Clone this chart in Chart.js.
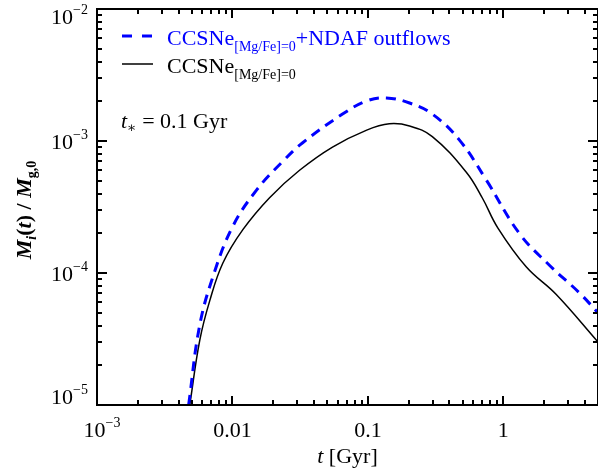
<!DOCTYPE html>
<html>
<head>
<meta charset="utf-8">
<script src="https://cdn.jsdelivr.net/npm/chart.js@4.4.1/dist/chart.umd.min.js"></script>
<style>
    html, body { margin: 0; padding: 0; background: #fff; }
    #wrap { width: 598px; height: 471px; }
</style>
</head>
<body>
<div id="wrap"><canvas id="chart" width="598" height="471"></canvas></div>
<script>
// values: t [Gyr] and M_i(t) / M_g,0
const tSolid = [0.00484, 0.00574, 0.00681, 0.0085, 0.0119, 0.0188, 0.0313, 0.0548, 0.098, 0.144, 0.203, 0.299, 0.533, 0.7, 0.91, 1.48, 2.45, 5];
const mSolid = [1.0e-5, 3.1e-5, 6.2e-5, 1.19e-4, 2.12e-4, 3.72e-4, 6.0e-4, 9.0e-4, 1.21e-3, 1.35e-3, 1.3e-3, 1.08e-3, 5.8e-4, 3.7e-4, 2.2e-4, 1.11e-4, 6.9e-5, 3.0e-5];

const tDashed = [0.00475, 0.0057, 0.00716, 0.01, 0.0151, 0.0235, 0.033, 0.065, 0.098, 0.137, 0.203, 0.299, 0.473, 0.748, 1.31, 2.18, 3.63, 5];
const mDashed = [1.0e-5, 3.9e-5, 9.3e-5, 2.23e-4, 4.26e-4, 7.0e-4, 9.7e-4, 1.6e-3, 2.01e-3, 2.12e-3, 1.94e-3, 1.6e-3, 1.02e-3, 5.07e-4, 2.0e-4, 1.15e-4, 7.1e-5, 5.0e-5];

// tick labels
const xTicks = [0.001, 0.01, 0.1, 1];
const xTickLabels = [['10', '\u22123'], ['0.01'], ['0.1'], ['1']];
const yTicks = [1e-5, 1e-4, 1e-3, 1e-2];
const yTickLabels = [['10', '\u22125'], ['10', '\u22124'], ['10', '\u22123'], ['10', '\u22122']];

const SERIF = '"Liberation Serif", "DejaVu Serif", serif';
const BLUE = '#0000ff';

function font(size, style) {
    return (style || '') + ' ' + size + 'px ' + SERIF;
}

// draw text made of parts {t, f, dy, c}; align 'left' | 'center' | 'right'
function richText(ctx, parts, x, y, align) {
    let w = 0;
    parts.forEach(p => { ctx.font = p.f; w += ctx.measureText(p.t).width; });
    let cx = align === 'center' ? x - w / 2 : align === 'right' ? x - w : x;
    ctx.textAlign = 'left';
    ctx.textBaseline = 'alphabetic';
    parts.forEach(p => {
        ctx.font = p.f;
        if (p.c) ctx.fillStyle = p.c;
        ctx.fillText(p.t, cx, y + (p.dy || 0));
        cx += ctx.measureText(p.t).width;
    });
}

function labelParts(lbl) {
    const parts = [{t: lbl[0], f: font(22)}];
    if (lbl[1]) parts.push({t: lbl[1], f: font(14), dy: -10});
    return parts;
}

const frame = {
    id: 'frame',
    afterDatasetsDraw(chart) {
        const {ctx, chartArea: a, scales: {x, y}} = chart;
        ctx.save();
        ctx.strokeStyle = '#000';
        ctx.fillStyle = '#000';
        ctx.lineWidth = 2;
        ctx.strokeRect(a.left, a.top, a.right - a.left, a.bottom - a.top);

        // inward ticks, majors at each decade, minors at 2..9
        ctx.beginPath();
        for (let d = 1e-3; d < 10; d *= 10) {
            for (let k = 1; k <= 9; k++) {
                const v = k * d;
                if (v < x.min * 0.999 || v > x.max * 1.001) continue;
                const px = Math.round(x.getPixelForValue(v));
                const len = k === 1 ? 9 : 5;
                ctx.moveTo(px, a.bottom); ctx.lineTo(px, a.bottom - len);
                ctx.moveTo(px, a.top); ctx.lineTo(px, a.top + len);
            }
        }
        for (let d = 1e-5; d < 0.1; d *= 10) {
            for (let k = 1; k <= 9; k++) {
                const v = k * d;
                if (v < y.min * 0.999 || v > y.max * 1.001) continue;
                const py = Math.round(y.getPixelForValue(v));
                const len = k === 1 ? 10 : 5;
                ctx.moveTo(a.left, py); ctx.lineTo(a.left + len, py);
                ctx.moveTo(a.right, py); ctx.lineTo(a.right - len, py);
            }
        }
        ctx.stroke();

        // tick labels
        xTicks.forEach((v, i) => {
            richText(ctx, labelParts(xTickLabels[i]), x.getPixelForValue(v) + (xTickLabels[i][1] ? 5 : 0), a.bottom + 32, 'center');
        });
        yTicks.forEach((v, i) => {
            const py = Math.min(Math.max(y.getPixelForValue(v), a.top + 7), a.bottom - 9);
            richText(ctx, labelParts(yTickLabels[i]), a.left - 9, py + 8, 'right');
        });

        // axis titles
        richText(ctx, [
            {t: 't', f: font(22, 'italic')},
            {t: ' [Gyr]', f: font(22)}
        ], (a.left + a.right) / 2, 463, 'center');

        ctx.save();
        ctx.translate(31, (a.top + a.bottom) / 2 + 3);
        ctx.rotate(-Math.PI / 2);
        richText(ctx, [
            {t: 'M', f: font(22, 'italic bold')},
            {t: 'i', f: font(14, 'italic bold'), dy: 5},
            {t: '(', f: font(22, 'bold')},
            {t: 't', f: font(22, 'italic bold')},
            {t: ') / ', f: font(22, 'bold')},
            {t: 'M', f: font(22, 'italic bold')},
            {t: 'g,0', f: font(14, 'bold'), dy: 5}
        ], 0, 0, 'center');
        ctx.restore();

        // legend
        ctx.lineWidth = 3;
        ctx.strokeStyle = BLUE;
        ctx.setLineDash([10, 10]);
        ctx.beginPath(); ctx.moveTo(122, 36); ctx.lineTo(153, 36); ctx.stroke();
        ctx.setLineDash([]);
        ctx.lineWidth = 1.5;
        ctx.strokeStyle = '#000';
        ctx.beginPath(); ctx.moveTo(122, 64); ctx.lineTo(153, 64); ctx.stroke();

        richText(ctx, [
            {t: 'CCSNe', f: font(22), c: BLUE},
            {t: '[Mg/Fe]=0', f: font(14), dy: 6},
            {t: '+NDAF outflows', f: font(22)}
        ], 167, 45, 'left');
        richText(ctx, [
            {t: 'CCSNe', f: font(22), c: '#000'},
            {t: '[Mg/Fe]=0', f: font(14), dy: 6}
        ], 167, 73, 'left');

        richText(ctx, [
            {t: 't', f: font(22, 'italic'), c: '#000'},
            {t: '\u2217', f: font(14), dy: 4},
            {t: ' = 0.1 Gyr', f: font(22)}
        ], 121, 128, 'left');

        ctx.restore();
    }
};

const ctx = document.getElementById('chart').getContext('2d');
const chart = new Chart(ctx, {
    type: 'line',
    data: {
        datasets: [{
                label: 'CCSNe[Mg/Fe]=0+NDAF outflows',
                data: tDashed.map((t, i) => ({x: t, y: mDashed[i]})),
                borderColor: BLUE,
                borderWidth: 3,
                borderDash: [10, 7],
                tension: 0.4,
                pointRadius: 0,
                clip: 0
            },
            {
                label: 'CCSNe[Mg/Fe]=0',
                data: tSolid.map((t, i) => ({x: t, y: mSolid[i]})),
                borderColor: '#000',
                borderWidth: 1.5,
                tension: 0.4,
                pointRadius: 0,
                clip: 0
            }
        ]
    },
    options: {
        responsive: false,
        animation: false,
        layout: {
            padding: {left: 97, right: 0, top: 9, bottom: 66}
        },
        plugins: {
            legend: {display: false},
            tooltip: {enabled: false}
        },
        scales: {
            x: {type: 'logarithmic', min: 0.001, max: 5, display: false},
            y: {type: 'logarithmic', min: 1e-5, max: 1e-2, display: false}
        }
    },
    plugins: [frame]
});
</script>
</body>
</html>
